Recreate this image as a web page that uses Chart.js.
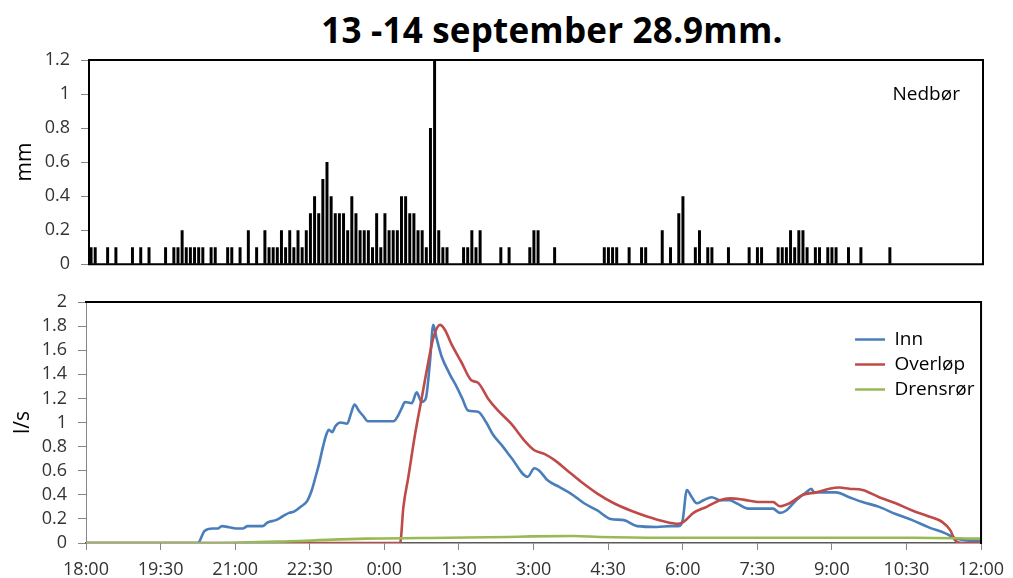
<!DOCTYPE html>
<html>
<head>
<meta charset="utf-8">
<script src="https://cdn.jsdelivr.net/npm/chart.js@4.4.1/dist/chart.umd.min.js"></script>
<style>
  body { margin: 0; background: #fff; width: 1013px; height: 578px; overflow: hidden; position: relative; }
  #title { position: absolute; left: 252px; top: 12px; width: 600px; text-align: center; white-space: nowrap;
           font: bold 35px/1 'Open Sans', sans-serif; letter-spacing: 0.2px; color: #000; }
  #rainChart { position: absolute; left: 0; top: 0; }
  #flowChart { position: absolute; left: 0; top: 280px; }
</style>
</head>
<body>
<div id="title">13 -14 september 28.9mm.</div>
<canvas id="rainChart" width="1013" height="286"></canvas>
<canvas id="flowChart" width="1013" height="298"></canvas>
<script>
// Nedbør (mm per 5 min), one row per hour starting 18:00
const rain = [
  0.1,0.1,0,0,0.1,0,0.1,0,0,0,0.1,0,              // 18
  0.1,0,0.1,0,0,0,0.1,0,0.1,0.1,0.2,0.1,          // 19
  0.1,0.1,0.1,0.1,0,0.1,0.1,0,0,0.1,0.1,0,        // 20
  0.1,0,0.2,0,0.1,0,0.2,0.1,0.1,0.1,0.2,0.1,      // 21
  0.2,0.1,0.2,0.1,0.2,0.3,0.4,0.3,0.5,0.6,0.4,0.3,// 22
  0.3,0.3,0.2,0.4,0.3,0.2,0.2,0.2,0.1,0.3,0.1,0.3,// 23
  0.2,0.2,0.2,0.4,0.4,0.3,0.3,0.2,0.2,0.1,0.8,1.2,// 0
  0.2,0.1,0.1,0,0,0,0.1,0.1,0.2,0.1,0.2,0,        // 1
  0,0,0,0.1,0,0.1,0,0,0,0,0.1,0.2,                // 2
  0.2,0,0,0,0.1,0,0,0,0,0,0,0,                    // 3
  0,0,0,0,0.1,0.1,0.1,0.1,0,0,0.1,0,              // 4
  0,0.1,0.1,0,0,0,0.2,0,0.1,0,0.3,0.4,            // 5
  0,0,0.1,0.2,0,0.1,0.1,0,0,0,0.1,0,              // 6
  0,0,0,0.1,0,0.1,0.1,0,0,0,0.1,0.1,              // 7
  0.1,0.2,0.1,0.2,0.2,0.1,0,0.1,0.1,0,0.1,0.1,    // 8
  0.1,0,0,0.1,0,0,0.1,0,0,0,0,0,                  // 9
  0,0.1,0,0,0,0,0,0,0,0,0,0,                      // 10
  0,0,0,0,0,0,0,0,0,0,0,0                         // 11
];

// flows, time in minutes after 18:00
const innT = [0,135,143,153,159,164,173,181,189,195,213,219,229,237,245,251,259,267,273,277,
  281,286,290,293,297,301,307,315,320,324,329,335,340,357,371,376,381,385,393,399,
  405,410,415,419,423,429,439,447,454,461,473,483,491,503,513,533,541,547,557,571,
  585,601,617,633,649,665,689,705,715,720,725,731,737,745,755,765,777,785,799,829,
  837,845,857,869,875,879,893,905,921,937,957,977,997,1017,1037,1049,1065,1080];
const innQ = [0,0,0.10,0.12,0.12,0.14,0.13,0.12,0.12,0.14,0.14,0.17,0.19,0.22,0.25,0.26,0.30,0.35,0.45,0.55,
  0.65,0.80,0.90,0.94,0.92,0.97,1.00,0.99,1.08,1.15,1.10,1.05,1.01,1.01,1.01,1.05,1.12,1.17,1.16,1.25,
  1.17,1.20,1.50,1.81,1.70,1.55,1.40,1.30,1.20,1.10,1.09,1.00,0.90,0.80,0.71,0.55,0.62,0.60,0.52,0.465,
  0.41,0.33,0.27,0.20,0.19,0.14,0.133,0.14,0.14,0.19,0.44,0.38,0.33,0.355,0.38,0.355,0.355,0.33,0.285,0.285,
  0.25,0.27,0.355,0.42,0.45,0.42,0.42,0.42,0.38,0.34,0.30,0.24,0.19,0.13,0.08,0.04,0.02,0.02];

const ovlT = [0,379,383,389,397,405,413,419,427,433,441,453,465,473,485,497,513,529,541,553,
  565,581,597,617,637,657,677,697,715,721,733,749,765,777,793,813,829,837,849,865,
  881,897,909,921,937,957,977,997,1017,1033,1043,1049,1057,1080];
const ovlQ = [0,0,0.30,0.55,0.90,1.20,1.50,1.70,1.81,1.77,1.65,1.50,1.35,1.33,1.20,1.10,0.99,0.85,0.77,0.74,
  0.69,0.60,0.51,0.41,0.33,0.27,0.22,0.18,0.16,0.175,0.25,0.30,0.355,0.37,0.36,0.34,0.34,0.305,0.33,0.40,
  0.42,0.45,0.46,0.45,0.44,0.38,0.33,0.27,0.22,0.175,0.105,0.02,0,0];

const drnT = [0,155,257,337,437,509,537,589,620,700,900,1000,1080];
const drnQ = [0,0,0.017,0.036,0.044,0.05,0.055,0.058,0.05,0.044,0.044,0.044,0.036];

Chart.defaults.font.family = "'Open Sans', sans-serif";
Chart.defaults.color = '#333';
Chart.defaults.animation = false;

function clock(min) {
    const h = (18 + Math.floor(min / 60)) % 24;
    const m = min % 60;
    return h + ':' + String(m).padStart(2, '0');
}

function pts(t, q) {
    return t.map((x, i) => ({ x: x, y: q[i] }));
}

const rainLabels = rain.map((v, i) => clock(i * 5));

// box around the plot area
const frame = {
    id: 'frame',
    afterDatasetsDraw(chart, args, opts) {
        const { ctx, chartArea: a } = chart;
        const w = opts.width;
        ctx.save();
        ctx.strokeStyle = opts.color;
        ctx.lineWidth = w;
        ctx.beginPath();
        if (opts.sides.includes('top')) { ctx.moveTo(a.left - w / 2, a.top); ctx.lineTo(a.right + w / 2, a.top); }
        if (opts.sides.includes('right')) { ctx.moveTo(a.right, a.top); ctx.lineTo(a.right, a.bottom + w / 2); }
        if (opts.sides.includes('bottom')) { ctx.moveTo(a.left - w / 2, a.bottom); ctx.lineTo(a.right + w / 2, a.bottom); }
        if (opts.sides.includes('left')) { ctx.moveTo(a.left, a.top); ctx.lineTo(a.left, a.bottom); }
        ctx.stroke();
        ctx.restore();
    }
};

// move the in-area legend to the top right corner
const legendCorner = {
    id: 'legendCorner',
    afterLayout(chart, args, opts) {
        const lg = chart.legend;
        const a = chart.chartArea;
        if (!lg) return;
        const w = lg.width, h = lg.height;
        lg.left = a.right + opts.dx;
        lg.right = lg.left + w;
        lg.top = a.top + opts.dy;
        lg.bottom = lg.top + h;
    }
};

const yTicks = { padding: 11, autoSkip: false, font: { size: 18 }, color: '#333', callback: v => +v.toFixed(1) };

new Chart(document.getElementById('rainChart'), {
    type: 'bar',
    data: {
        labels: rainLabels,
        datasets: [{
            label: 'Nedbør',
            data: rain,
            backgroundColor: '#000',
            barPercentage: 0.72,
            categoryPercentage: 1
        }]
    },
    options: {
        responsive: false,
        layout: { padding: { top: 60, right: 30, bottom: 0, left: 0 } },
        scales: {
            x: { display: false },
            y: {
                min: 0, max: 1.2,
                afterFit: s => { s.width = 89; },
                ticks: Object.assign({ stepSize: 0.2 }, yTicks),
                grid: { drawOnChartArea: false, tickLength: 8, color: '#868686' },
                border: { display: false },
                title: { display: true, text: 'mm', font: { size: 21 }, color: '#000', padding: { top: 12, bottom: 0 } }
            }
        },
        plugins: {
            legend: {
                position: 'chartArea', align: 'start',
                labels: { boxWidth: 0, padding: 10, font: { size: 19 }, color: '#000' }
            },
            tooltip: { enabled: false },
            frame: { color: '#000', width: 2, sides: ['top', 'right', 'bottom', 'left'] },
            legendCorner: { dx: -110, dy: 15 }
        }
    },
    plugins: [frame, legendCorner]
});

new Chart(document.getElementById('flowChart'), {
    type: 'line',
    data: {
        datasets: [
            { label: 'Inn', data: pts(innT, innQ), borderColor: '#4A7EBB', backgroundColor: '#4A7EBB',
              borderWidth: 2.6, pointRadius: 0, cubicInterpolationMode: 'monotone', order: 2 },
            { label: 'Overløp', data: pts(ovlT, ovlQ), borderColor: '#BE4B48', backgroundColor: '#BE4B48',
              borderWidth: 2.6, pointRadius: 0, cubicInterpolationMode: 'monotone', order: 1 },
            { label: 'Drensrør', data: pts(drnT, drnQ), borderColor: '#98B954', backgroundColor: '#98B954',
              borderWidth: 2.6, pointRadius: 0, cubicInterpolationMode: 'monotone', order: 0 }
        ]
    },
    options: {
        responsive: false,
        layout: { padding: { top: 22, right: 28, bottom: 0, left: 0 } },
        scales: {
            x: {
                type: 'linear', min: 0, max: 1080,
                afterFit: s => { s.height = 35; },
                ticks: { stepSize: 90, maxTicksLimit: 20, autoSkip: false, maxRotation: 0, padding: 9,
                         font: { size: 18 }, color: '#333', callback: v => clock(v) },
                grid: { drawOnChartArea: false, tickLength: 7, color: '#868686' },
                border: { color: '#595959', width: 1.5 }
            },
            y: {
                min: 0, max: 2,
                afterFit: s => { s.width = 86; },
                ticks: Object.assign({ stepSize: 0.2, maxTicksLimit: 20 }, yTicks),
                grid: { drawOnChartArea: false, tickLength: 8, color: '#868686' },
                border: { color: '#868686', width: 1 },
                title: { display: true, text: 'l/s', font: { size: 21 }, color: '#000', padding: { top: 10, bottom: 0 } }
            }
        },
        plugins: {
            legend: {
                position: 'chartArea', align: 'start',
                labels: { usePointStyle: true, pointStyle: 'line', pointStyleWidth: 30, padding: 6,
                          font: { size: 19 }, color: '#000',
                          sort: (a, b) => a.datasetIndex - b.datasetIndex }
            },
            tooltip: { enabled: false },
            frame: { color: '#000', width: 2, sides: ['top', 'right'] },
            legendCorner: { dx: -132, dy: 22 }
        }
    },
    plugins: [frame, legendCorner]
});
</script>
</body>
</html>
